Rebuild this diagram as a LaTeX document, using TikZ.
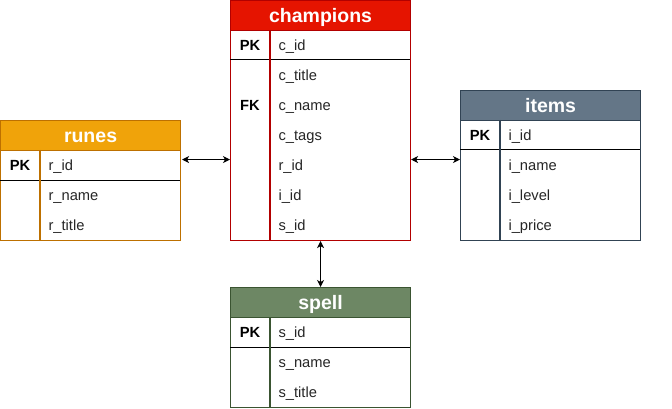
\documentclass[tikz,border=0pt]{standalone}
\usepackage{fontspec}
\setmainfont{Liberation Sans}
\usetikzlibrary{arrows.meta,calc}
\definecolor{ChampFill}{HTML}{E51400}
\definecolor{ChampLine}{HTML}{B20000}
\definecolor{RuneFill}{HTML}{F0A30A}
\definecolor{RuneLine}{HTML}{BD7000}
\definecolor{ItemFill}{HTML}{647687}
\definecolor{ItemLine}{HTML}{314354}
\definecolor{SpellFill}{HTML}{6D8764}
\definecolor{SpellLine}{HTML}{3A5431}

\begin{document}
\begin{tikzpicture}[x=1pt,y=-1pt,line width=1.1pt,
  tblhead/.style={draw=#1,minimum width=180pt,minimum height=30pt,inner sep=0pt,anchor=north west,
    text=white,text height=14.6pt,text depth=0pt,font=\bfseries\fontsize{19.5}{20}\selectfont},
  tblbody/.style={draw=#1,fill=white,minimum width=180pt,inner sep=0pt,anchor=north west},
  fld/.style={anchor=west,inner sep=0pt,text height=11.5pt,text depth=0pt,text=black!85,font=\fontsize{14.7}{15}\selectfont},
  keyfld/.style={inner sep=0pt,text height=11.5pt,text depth=0pt,font=\bfseries\fontsize{14.7}{15}\selectfont},
  link/.style={{Stealth[length=7pt,width=7pt,inset=2pt]}-{Stealth[length=7pt,width=7pt,inset=2pt]},line width=1pt}]

\useasboundingbox (0,0) rectangle (672,409);

% The champions table.
\node[tblbody=ChampLine,minimum height=210pt] (champbody) at (230,30) {};
\node[tblhead=ChampLine,fill=ChampFill] (champ) at (230,0) {champions};
\draw[black,line width=1pt] (230,60) -- (410,60);
\draw[ChampLine] (270,30) -- (270,240);
\node[keyfld] (cpk) at (250,45) {PK};
\node[keyfld] (cfk) at (250,105) {FK};
\node[fld] (cid) at (278,45) {c\_id};
\node[fld] (ctitle) at (278,75) {c\_title};
\node[fld] (cname) at (278,105) {c\_name};
\node[fld] (ctags) at (278,135) {c\_tags};
\node[fld] (crid) at (278,165) {r\_id};
\node[fld] (ciid) at (278,195) {i\_id};
\node[fld] (csid) at (278,225) {s\_id};

% The runes table.
\node[tblbody=RuneLine,minimum height=90pt] (runebody) at (0,150) {};
\node[tblhead=RuneLine,fill=RuneFill] (runes) at (0,120) {runes};
\draw[black,line width=1pt] (0,180) -- (180,180);
\draw[RuneLine] (40,150) -- (40,240);
\node[keyfld] (rpk) at (20,165) {PK};
\node[fld] (rid) at (48,165) {r\_id};
\node[fld] (rname) at (48,195) {r\_name};
\node[fld] (rtitle) at (48,225) {r\_title};

% The items table.
\node[tblbody=ItemLine,minimum height=120pt] (itembody) at (460,120) {};
\node[tblhead=ItemLine,fill=ItemFill] (items) at (460,90) {items};
\draw[black,line width=1pt] (460,150) -- (640,150);
\draw[ItemLine] (500,120) -- (500,240);
\node[keyfld] (ipk) at (480,135) {PK};
\node[fld] (iid) at (508,135) {i\_id};
\node[fld] (iname) at (508,165) {i\_name};
\node[fld] (ilevel) at (508,195) {i\_level};
\node[fld] (iprice) at (508,225) {i\_price};

% The spell table.
\node[tblbody=SpellLine,minimum height=90pt] (spellbody) at (230,317) {};
\node[tblhead=SpellLine,fill=SpellFill] (spell) at (230,287) {spell};
\draw[black,line width=1pt] (230,347) -- (410,347);
\draw[SpellLine] (270,317) -- (270,407);
\node[keyfld] (spk) at (250,332) {PK};
\node[fld] (sid) at (278,332) {s\_id};
\node[fld] (sname) at (278,362) {s\_name};
\node[fld] (stitle) at (278,392) {s\_title};

% Links between the tables.
\draw[link,shorten >=1pt] ([yshift=-24pt]champbody.west) -- ([yshift=-24pt]champbody.west -| runebody.east);
\draw[link] ([yshift=-24pt]champbody.east) -- ([yshift=-24pt]champbody.east -| itembody.west);
\draw[link] (champbody.south) -- (spell.north);

\end{tikzpicture}
\end{document}
